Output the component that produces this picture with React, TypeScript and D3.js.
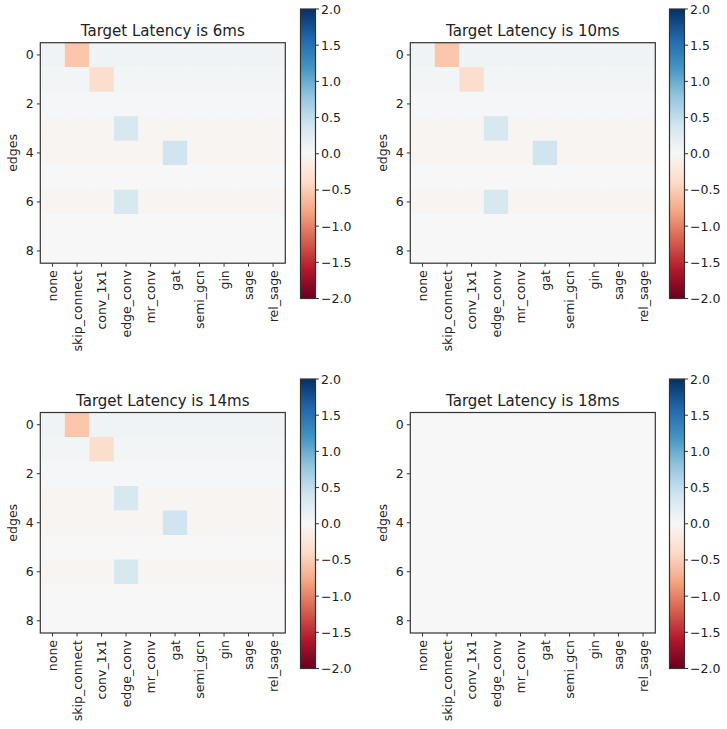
import React from "react";
import * as d3 from "d3";

const ops = ["none", "skip_connect", "conv_1x1", "edge_conv", "mr_conv", "gat", "semi_gcn", "gin", "sage", "rel_sage"];
const edges = [0, 1, 2, 3, 4, 5, 6, 7, 8];
const yTicks = [0, 2, 4, 6, 8];
const cbarTicks = [-2, -1.5, -1, -0.5, 0, 0.5, 1, 1.5, 2];

// matplotlib RdBu (colorbrewer, linear segments)
const rdbuColors = ["#67001f", "#b2182b", "#d6604d", "#f4a582", "#fddbc7", "#f7f7f7", "#d1e5f0", "#92c5de", "#4393c3", "#2166ac", "#053061"];

const latency6 = [
  [0.08, -0.55, 0.08, 0.08, 0.08, 0.08, 0.08, 0.08, 0.08, 0.08],
  [0.05, 0.05, -0.36, 0.05, 0.05, 0.05, 0.05, 0.05, 0.05, 0.05],
  [0.02, 0.02, 0.02, 0.02, 0.02, 0.02, 0.02, 0.02, 0.02, 0.02],
  [-0.045, -0.045, -0.045, 0.34, -0.045, -0.045, -0.045, -0.045, -0.045, -0.045],
  [-0.045, -0.045, -0.045, -0.045, -0.045, 0.4, -0.045, -0.045, -0.045, -0.045],
  [0.0, 0.0, 0.0, 0.0, 0.0, 0.0, 0.0, 0.0, 0.0, 0.0],
  [-0.04, -0.04, -0.04, 0.34, -0.04, -0.04, -0.04, -0.04, -0.04, -0.04],
  [0.005, 0.005, 0.005, 0.005, 0.005, 0.005, 0.005, 0.005, 0.005, 0.005],
  [0.005, 0.005, 0.005, 0.005, 0.005, 0.005, 0.005, 0.005, 0.005, 0.005],
];
const latency10 = [
  [0.08, -0.55, 0.08, 0.08, 0.08, 0.08, 0.08, 0.08, 0.08, 0.08],
  [0.05, 0.05, -0.36, 0.05, 0.05, 0.05, 0.05, 0.05, 0.05, 0.05],
  [0.02, 0.02, 0.02, 0.02, 0.02, 0.02, 0.02, 0.02, 0.02, 0.02],
  [-0.045, -0.045, -0.045, 0.34, -0.045, -0.045, -0.045, -0.045, -0.045, -0.045],
  [-0.045, -0.045, -0.045, -0.045, -0.045, 0.4, -0.045, -0.045, -0.045, -0.045],
  [0.0, 0.0, 0.0, 0.0, 0.0, 0.0, 0.0, 0.0, 0.0, 0.0],
  [-0.04, -0.04, -0.04, 0.34, -0.04, -0.04, -0.04, -0.04, -0.04, -0.04],
  [0.005, 0.005, 0.005, 0.005, 0.005, 0.005, 0.005, 0.005, 0.005, 0.005],
  [0.005, 0.005, 0.005, 0.005, 0.005, 0.005, 0.005, 0.005, 0.005, 0.005],
];
const latency14 = [
  [0.08, -0.55, 0.08, 0.08, 0.08, 0.08, 0.08, 0.08, 0.08, 0.08],
  [0.05, 0.05, -0.36, 0.05, 0.05, 0.05, 0.05, 0.05, 0.05, 0.05],
  [0.02, 0.02, 0.02, 0.02, 0.02, 0.02, 0.02, 0.02, 0.02, 0.02],
  [-0.045, -0.045, -0.045, 0.34, -0.045, -0.045, -0.045, -0.045, -0.045, -0.045],
  [-0.045, -0.045, -0.045, -0.045, -0.045, 0.4, -0.045, -0.045, -0.045, -0.045],
  [0.0, 0.0, 0.0, 0.0, 0.0, 0.0, 0.0, 0.0, 0.0, 0.0],
  [-0.04, -0.04, -0.04, 0.34, -0.04, -0.04, -0.04, -0.04, -0.04, -0.04],
  [0.005, 0.005, 0.005, 0.005, 0.005, 0.005, 0.005, 0.005, 0.005, 0.005],
  [0.005, 0.005, 0.005, 0.005, 0.005, 0.005, 0.005, 0.005, 0.005, 0.005],
];
const latency18 = [
  [0.005, 0.005, 0.005, 0.005, 0.005, 0.005, 0.005, 0.005, 0.005, 0.005],
  [0.005, 0.005, 0.005, 0.005, 0.005, 0.005, 0.005, 0.005, 0.005, 0.005],
  [0.005, 0.005, 0.005, 0.005, 0.005, 0.005, 0.005, 0.005, 0.005, 0.005],
  [0.005, 0.005, 0.005, 0.005, 0.005, 0.005, 0.005, 0.005, 0.005, 0.005],
  [0.005, 0.005, 0.005, 0.005, 0.005, 0.005, 0.005, 0.005, 0.005, 0.005],
  [0.005, 0.005, 0.005, 0.005, 0.005, 0.005, 0.005, 0.005, 0.005, 0.005],
  [0.005, 0.005, 0.005, 0.005, 0.005, 0.005, 0.005, 0.005, 0.005, 0.005],
  [0.005, 0.005, 0.005, 0.005, 0.005, 0.005, 0.005, 0.005, 0.005, 0.005],
  [0.005, 0.005, 0.005, 0.005, 0.005, 0.005, 0.005, 0.005, 0.005, 0.005],
];

const titles = ["Target Latency is 6ms", "Target Latency is 10ms", "Target Latency is 14ms", "Target Latency is 18ms"];
const matrices = [latency6, latency10, latency14, latency18];

// layout of each subplot (axes box + colorbar)
const panels = [
  { ax: 40.3, ay: 42.7, cx: 300.5, cy: 9 },
  { ax: 410.3, ay: 42.7, cx: 669.5, cy: 9 },
  { ax: 40.3, ay: 412.5, cx: 300.5, cy: 379 },
  { ax: 410.3, ay: 412.5, cx: 669.5, cy: 379 },
];
const AW = 245;
const AH = 220.5;
const CW = 15;
const CH = 289.5;

const FONT = "DejaVu Sans, sans-serif";
const TXT = "#222";
const LINE = "#333";

const cmap = d3
  .scaleLinear<string>()
  .domain(d3.range(0, 1.0001, 0.1))
  .range(rdbuColors)
  .interpolate(d3.interpolateRgb)
  .clamp(true);
const color = (v: number) => cmap((v + 2) / 4);
const fmt = (v: number) => d3.format(".1f")(v).replace("-", "\u2212");

function Heatmap({ data, title, p, idx }: { data: number[][]; title: string; p: any; idx: number }) {
  const x = d3.scaleBand<string>().domain(ops).range([0, AW]);
  const y = d3.scaleBand<number>().domain(edges).range([0, AH]);
  const cScale = d3.scaleLinear().domain([-2, 2]).range([CH, 0]);
  const gid = `grad${idx}`;
  const stops = d3.range(0, 1.0001, 0.1);
  return (
    <g>
      <g transform={`translate(${p.ax},${p.ay})`}>
        {data.map((row, i) =>
          row.map((v, j) => (
            <rect key={`${i}-${j}`} x={x(ops[j])} y={y(edges[i])} width={x.bandwidth() + 0.3} height={y.bandwidth() + 0.3} fill={color(v)} />
          ))
        )}
        <rect x={0} y={0} width={AW} height={AH} fill="none" stroke={LINE} strokeWidth={1.2} />
        {yTicks.map((t) => {
          const yy = (y(t) as number) + y.bandwidth() / 2;
          return (
            <g key={t}>
              <line x1={-3.5} x2={0} y1={yy} y2={yy} stroke={LINE} strokeWidth={1} />
              <text x={-6.5} y={yy} textAnchor="end" dominantBaseline="central" fontSize={12.5} fill={TXT} fontFamily={FONT}>
                {t}
              </text>
            </g>
          );
        })}
        {ops.map((o) => {
          const xx = (x(o) as number) + x.bandwidth() / 2;
          return (
            <g key={o}>
              <line x1={xx} x2={xx} y1={AH} y2={AH + 3.5} stroke={LINE} strokeWidth={1} />
              <text transform={`translate(${xx},${AH + 7}) rotate(-90)`} textAnchor="end" dominantBaseline="central" fontSize={12.5} fill={TXT} fontFamily={FONT}>
                {o}
              </text>
            </g>
          );
        })}
        <text transform={`translate(${-23},${AH / 2}) rotate(-90)`} textAnchor="middle" fontSize={12.5} fill={TXT} fontFamily={FONT}>
          edges
        </text>
        <text x={AW / 2} y={-7} textAnchor="middle" fontSize={15} fill={TXT} fontFamily={FONT}>
          {title}
        </text>
      </g>
      <g transform={`translate(${p.cx},${p.cy})`}>
        <defs>
          <linearGradient id={gid} x1="0" y1="1" x2="0" y2="0">
            {stops.map((s) => (
              <stop key={s} offset={s} stopColor={cmap(s)} />
            ))}
          </linearGradient>
        </defs>
        <rect x={0} y={0} width={CW} height={CH} fill={`url(#${gid})`} stroke={LINE} strokeWidth={1.2} />
        {cbarTicks.map((t) => (
          <g key={t}>
            <line x1={CW} x2={CW + 3.5} y1={cScale(t)} y2={cScale(t)} stroke={LINE} strokeWidth={1} />
            <text x={CW + 5.5} y={cScale(t)} dominantBaseline="central" fontSize={12.5} fill={TXT} fontFamily={FONT}>
              {fmt(t)}
            </text>
          </g>
        ))}
      </g>
    </g>
  );
}

export default function App() {
  return (
    <svg width={727} height={729} style={{ position: "absolute", left: 0, top: 0, background: "#fff" }}>
      {matrices.map((m, i) => (
        <Heatmap key={i} data={m} title={titles[i]} p={panels[i]} idx={i} />
      ))}
    </svg>
  );
}
